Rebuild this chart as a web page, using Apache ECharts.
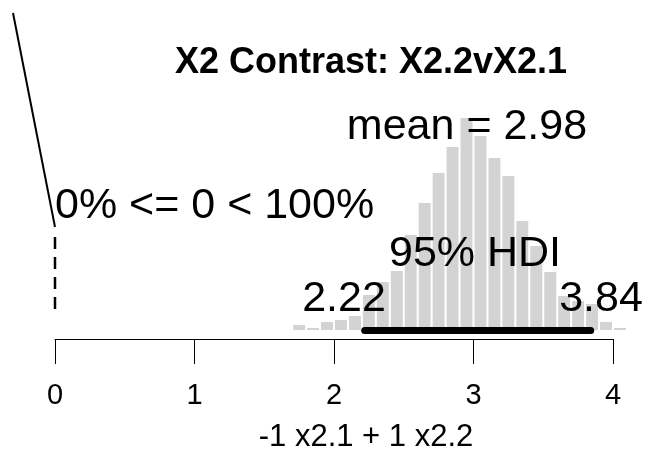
<!DOCTYPE html>
<html>
<head>
<meta charset="utf-8">
<script src="https://cdn.jsdelivr.net/npm/echarts@6/dist/echarts.min.js"></script>
<style>html,body{margin:0;padding:0;background:#fff}#c{width:651px;height:453px}</style>
</head>
<body>
<div id="c"></div>
<script>
// ---- data ----
const binCenters = [1.75,1.85,1.95,2.05,2.15,2.25,2.35,2.45,2.55,2.65,2.75,2.85,2.95,3.05,3.15,3.25,3.35,3.45,3.55,3.65,3.75,3.85,3.95,4.05];
const binHeights = [5,2,8,10,14,35,48,59,95,127,157,183,212,194,172,154,109,84,58,34,29,26,8,2];
const hdi = [2.22, 3.84];
const meanValue = 2.98;
const compVal = 0;
const pctBelow = 0, pctAbove = 100;
const xTicks = [0, 1, 2, 3, 4];
const titleText = 'X2 Contrast: X2.2vX2.1';
const xLabel = '-1 x2.1 + 1 x2.2';
// slanted reference line and dashed comparison line (data units)
const slantLine = [[-0.301, 317], [0, 103]];
const compLine = [[0, 93], [0, 18]];

const FONT = '"Liberation Sans", Arial, Helvetica, sans-serif';
const chart = echarts.init(document.getElementById('c'), null, {renderer: 'canvas'});

function segmentSeries(points, style) {
  return {
    type: 'custom', clip: false, z: 5,
    data: [points[0].concat(points[1])],
    renderItem: function (params, api) {
      const a = api.coord([api.value(0), api.value(1)]);
      const b = api.coord([api.value(2), api.value(3)]);
      return {type: 'line', shape: {x1: a[0], y1: a[1], x2: b[0], y2: b[1]}, style: style};
    }
  };
}

const option = {
  animation: false,
  backgroundColor: '#ffffff',
  grid: {left: 55, right: 38, top: 10, bottom: 114},
  xAxis: {
    type: 'value', min: xTicks[0], max: xTicks[xTicks.length - 1], interval: 1,
    axisLine: {show: true, onZero: false, lineStyle: {color: '#000', width: 1}},
    axisTick: {show: true, length: 25, lineStyle: {color: '#000', width: 1}},
    axisLabel: {color: '#000', fontSize: 29, fontFamily: FONT, margin: 42},
    splitLine: {show: false}
  },
  yAxis: {
    type: 'value', min: -9, max: 320, show: false, splitLine: {show: false}
  },
  series: [
    {
      type: 'custom', z: 2,
      data: binCenters.map((c, i) => [c, binHeights[i]]),
      clip: false,
      renderItem: function (params, api) {
        const c = api.value(0), h = api.value(1);
        const p0 = api.coord([c - 0.05, h]);
        const p1 = api.coord([c + 0.05, 0]);
        return {
          type: 'rect',
          shape: {x: p0[0] + 1, y: p0[1], width: p1[0] - p0[0] - 2, height: p1[1] - p0[1]},
          style: {fill: '#d3d3d3'}
        };
      }
    },
    segmentSeries([[hdi[0], -0.5], [hdi[1], -0.5]], {stroke: '#000', lineWidth: 7, lineCap: 'round'}),
    segmentSeries(slantLine, {stroke: '#000', lineWidth: 2}),
    segmentSeries(compLine, {stroke: '#000', lineWidth: 2.5, lineDash: [12, 8]})
  ],
  graphic: [
    {type: 'text', z: 100, x: 371, y: 63, style: {text: titleText, font: 'bold 36px ' + FONT, fill: '#000', textAlign: 'center', textVerticalAlign: 'middle'}},
    {type: 'text', z: 100, x: 467, y: 127, style: {text: 'mean = ' + meanValue.toFixed(2), font: '43px ' + FONT, fill: '#000', textAlign: 'center', textVerticalAlign: 'middle'}},
    {type: 'text', z: 100, x: 55, y: 206, style: {text: pctBelow + '% <= ' + compVal + ' < ' + pctAbove + '%', font: '43px ' + FONT, fill: '#000', textAlign: 'left', textVerticalAlign: 'middle'}},
    {type: 'text', z: 100, x: 475, y: 254, style: {text: '95% HDI', font: '43px ' + FONT, fill: '#000', textAlign: 'center', textVerticalAlign: 'middle'}},
    {type: 'text', z: 100, x: 344, y: 299, style: {text: hdi[0].toFixed(2), font: '43px ' + FONT, fill: '#000', textAlign: 'center', textVerticalAlign: 'middle'}},
    {type: 'text', z: 100, x: 601, y: 299, style: {text: hdi[1].toFixed(2), font: '43px ' + FONT, fill: '#000', textAlign: 'center', textVerticalAlign: 'middle'}},
    {type: 'text', z: 100, x: 366, y: 437, style: {text: xLabel, font: '31px ' + FONT, fill: '#000', textAlign: 'center', textVerticalAlign: 'middle'}}
  ]
};
chart.setOption(option);
</script>
</body>
</html>
